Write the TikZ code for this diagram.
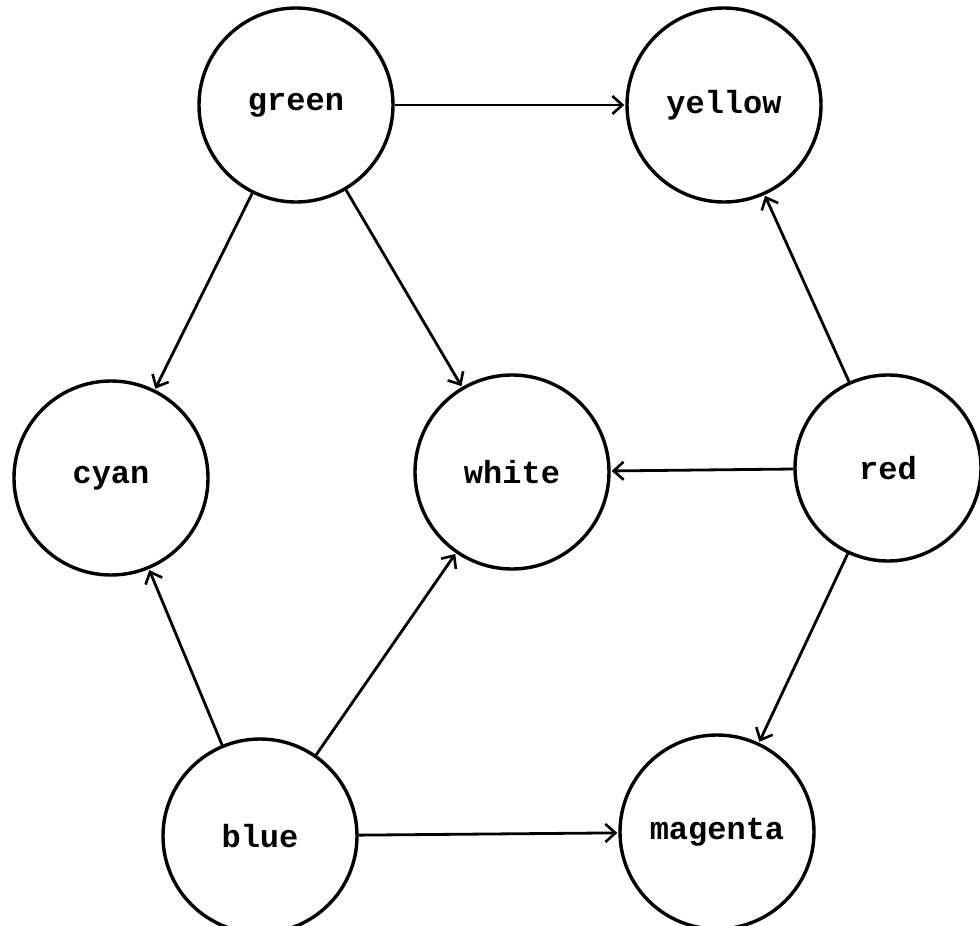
\documentclass[tikz,border=0pt]{standalone}
\usepackage{fontspec}
\setmonofont{Liberation Mono}
\usetikzlibrary{arrows.meta}
\begin{document}
\begin{tikzpicture}[x=1pt,y=-1pt,
  colornode/.style={circle,draw=black,line width=3.4pt,minimum size=194pt,inner sep=0pt,
    font=\fontsize{32}{32}\selectfont\ttfamily\bfseries},
  link/.style={line width=2.8pt,-{Straight Barb[length=10pt,width=18pt,line width=2.6pt]},shorten >=1pt}]
  \useasboundingbox (0,0) rectangle (980,926);
  \node[colornode] (green)   at (296,105) {green};
  \node[colornode] (yellow)  at (724,105) {yellow};
  \node[colornode] (cyan)    at (111,478) {cyan};
  \node[colornode] (white)   at (512,472) {white};
  \node[colornode,minimum size=186pt] (red) at (888,468) {red};
  \node[colornode] (blue)    at (260,836) {blue};
  \node[colornode] (magenta) at (717,832) {magenta};
  \draw[link] (green) -- (yellow);
  \draw[link] (green) -- (cyan);
  \draw[link] (green) -- (white);
  \draw[link] (red) -- (yellow);
  \draw[link] (red) -- (white);
  \draw[link] (red) -- (magenta);
  \draw[link] (blue) -- (cyan);
  \draw[link] (blue) -- (white);
  \draw[link] (blue) -- (magenta);
\end{tikzpicture}
\end{document}
